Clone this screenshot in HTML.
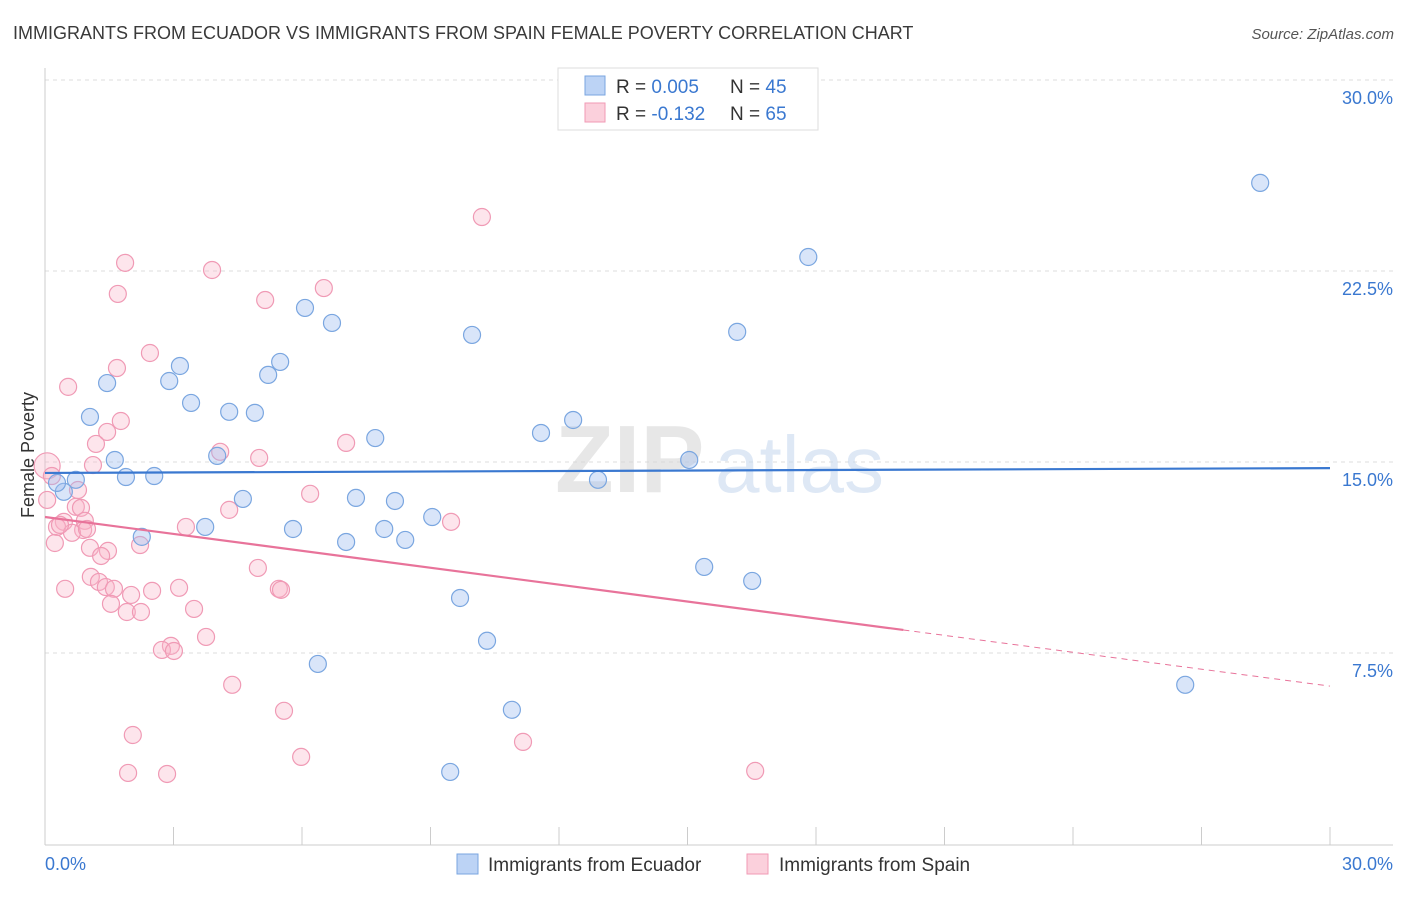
<!DOCTYPE html>
<html><head><meta charset="utf-8"><style>
body{margin:0;background:#fff;font-family:"Liberation Sans",sans-serif;}
svg text{font-family:"Liberation Sans",sans-serif;}
</style></head><body>
<svg id="chart" width="1406" height="892" xmlns="http://www.w3.org/2000/svg">
<text x="13" y="39" font-size="18" fill="#3a3a3a">IMMIGRANTS FROM ECUADOR VS IMMIGRANTS FROM SPAIN FEMALE POVERTY CORRELATION CHART</text>
<text x="1394" y="39" font-size="15" fill="#555" font-style="italic" text-anchor="end">Source: ZipAtlas.com</text>
<g id="grid"></g>
<g>
<text x="555" y="492" font-size="96" fill="#d8d8d8" font-family="Liberation Serif" font-weight="bold" opacity="0.6">ZIP</text>
<text x="715" y="492" font-size="80" fill="#c9daf0" opacity="0.6">atlas</text>
</g>
<line x1="45" y1="68" x2="45" y2="845" stroke="#ccc"/>
<line x1="45" y1="845" x2="1393" y2="845" stroke="#ccc"/>
<g id="xticks"></g>
<g id="ylabels"></g>
<text x="45" y="870" font-size="18" fill="#3a78d0">0.0%</text>
<text x="1393" y="870" font-size="18" fill="#3a78d0" text-anchor="end">30.0%</text>
<text transform="translate(34,455) rotate(-90)" font-size="18" fill="#333" text-anchor="middle">Female Poverty</text>
<g id="pink"></g>
<g id="blue"></g>
<g id="lines"></g>
<g>
<rect x="558" y="68" width="260" height="62" fill="#fff" stroke="#ddd"/>
<rect x="585" y="76" width="20" height="19" fill="#bcd3f5" stroke="#7aa6e0"/>
<rect x="585" y="103" width="20" height="19" fill="#fbd0dc" stroke="#f09ab5"/>
<text x="616" y="93" font-size="19" fill="#333">R = <tspan fill="#3a78d0">0.005</tspan><tspan x="730">N = </tspan><tspan fill="#3a78d0">45</tspan></text>
<text x="616" y="120" font-size="19" fill="#333">R = <tspan fill="#3a78d0">-0.132</tspan><tspan x="730">N = </tspan><tspan fill="#3a78d0">65</tspan></text>
</g>
<g>
<rect x="457" y="854" width="21" height="20" fill="#bcd3f5" stroke="#7aa6e0"/>
<text x="488" y="871" font-size="19" fill="#333">Immigrants from Ecuador</text>
<rect x="747" y="854" width="21" height="20" fill="#fbd0dc" stroke="#f09ab5"/>
<text x="779" y="871" font-size="19" fill="#333">Immigrants from Spain</text>
</g>
</svg>
<script>
const yTicks=[7.5,15,22.5,30];
const yTickLabels=["7.5%","15.0%","22.5%","30.0%"];
const xTickCount=10;
const blueX=[28.37,17.82,6.07,6.70,9.97,16.16,5.49,3.15,5.21,1.45,2.90,3.41,1.05,4.30,4.90,12.33,11.58,7.71,4.02,1.63,15.04,1.89,2.55,12.91,0.72,0.44,0.28,4.62,7.26,8.17,9.04,3.74,5.79,7.92,7.03,8.41,2.26,15.39,16.51,9.69,10.32,6.37,26.62,10.90,9.46];
const blueY=[25.96,23.05,21.05,20.46,19.99,20.11,18.93,18.77,18.42,18.10,18.18,17.32,16.77,16.97,16.93,16.65,16.14,15.94,15.24,15.08,15.08,14.41,14.45,14.30,14.30,13.83,14.18,13.55,13.59,13.47,12.84,12.45,12.37,12.37,11.86,11.94,12.06,10.88,10.33,9.66,7.98,7.07,6.25,5.27,2.83];
const pinkX=[10.20,1.87,3.90,1.70,6.51,5.14,2.45,1.68,0.54,1.77,1.45,1.19,7.03,4.09,5.00,1.12,0.05,0.16,0.77,6.19,4.30,9.48,0.72,0.84,0.44,0.93,0.89,0.28,0.63,0.98,3.29,0.23,2.22,1.05,1.47,1.31,4.97,1.07,1.26,1.42,0.47,1.61,2.50,3.13,5.46,5.51,2.01,1.54,3.48,1.91,2.24,3.76,2.94,2.73,3.01,4.37,5.58,2.05,5.98,11.16,1.94,2.85,16.58,0.05,0.35];
const pinkY=[24.62,22.82,22.54,21.60,21.83,21.36,19.28,18.69,17.95,16.61,16.18,15.71,15.75,15.40,15.16,14.88,14.85,14.45,13.90,13.75,13.12,12.65,13.24,13.20,12.65,12.69,12.33,12.45,12.22,12.37,12.45,11.82,11.74,11.63,11.51,11.31,10.84,10.49,10.29,10.09,10.02,10.02,9.94,10.06,10.02,9.98,9.78,9.43,9.23,9.11,9.11,8.13,7.78,7.62,7.58,6.25,5.23,4.28,3.42,4.01,2.79,2.75,2.87,13.51,12.53];
const blueTrend=[14.57,14.76];
const pinkTrend=[12.84,6.2];
const pinkSolidEnd=20.04;
const X0=45,X1=1330,Y30=80,Y0=844;
const xs=v=>X0+(v/30)*(X1-X0);
const ys=v=>Y0-(v/30)*(Y0-Y30);
const NS="http://www.w3.org/2000/svg";
function mk(tag,parent,attrs){const e=document.createElementNS(NS,tag);for(const k in attrs)e.setAttribute(k,attrs[k]);document.getElementById(parent).appendChild(e);return e;}
yTicks.forEach((t,i)=>{
  const l=mk('line','grid',{x1:45,x2:1393,y1:ys(t),y2:ys(t),stroke:'#ddd','stroke-dasharray':'4,4'});
  
  
  const tx=mk('text','ylabels',{x:1393,y:ys(t)+24,'font-size':18,fill:'#3a78d0','text-anchor':'end'});
  tx.textContent=yTickLabels[i];
  
  
});
for(let i=0;i<=xTickCount;i++){
  const x=xs(i*30/xTickCount);
  const l=mk('line','xticks',{x1:x,x2:x,y1:827,y2:845,stroke:'#ccc'});
  
  
}
pinkX.forEach((v,i)=>{
  const big=(i===16);
  const c=mk('circle','pink',{cx:xs(v),cy:ys(pinkY[i]),r:big?13:8.5,fill:'rgba(248,180,200,0.35)',stroke:'#f09ab5','stroke-width':1.2});
  
  
});
blueX.forEach((v,i)=>{
  const c=mk('circle','blue',{cx:xs(v),cy:ys(blueY[i]),r:8.5,fill:'rgba(160,190,240,0.4)',stroke:'#7aa6e0','stroke-width':1.2});
  
  
});
const bl=mk('line','lines',{x1:xs(0),y1:ys(blueTrend[0]),x2:xs(30),y2:ys(blueTrend[1]),stroke:'#3a78d0','stroke-width':2.2});


const pm=pinkTrend[0]+(pinkTrend[1]-pinkTrend[0])*pinkSolidEnd/30;
const pl=mk('line','lines',{x1:xs(0),y1:ys(pinkTrend[0]),x2:xs(pinkSolidEnd),y2:ys(pm),stroke:'#e8739a','stroke-width':2.2});


const pd=mk('line','lines',{x1:xs(pinkSolidEnd),y1:ys(pm),x2:xs(30),y2:ys(pinkTrend[1]),stroke:'#e8739a','stroke-width':1,'stroke-dasharray':'6,5'});


</script>
</body></html>
